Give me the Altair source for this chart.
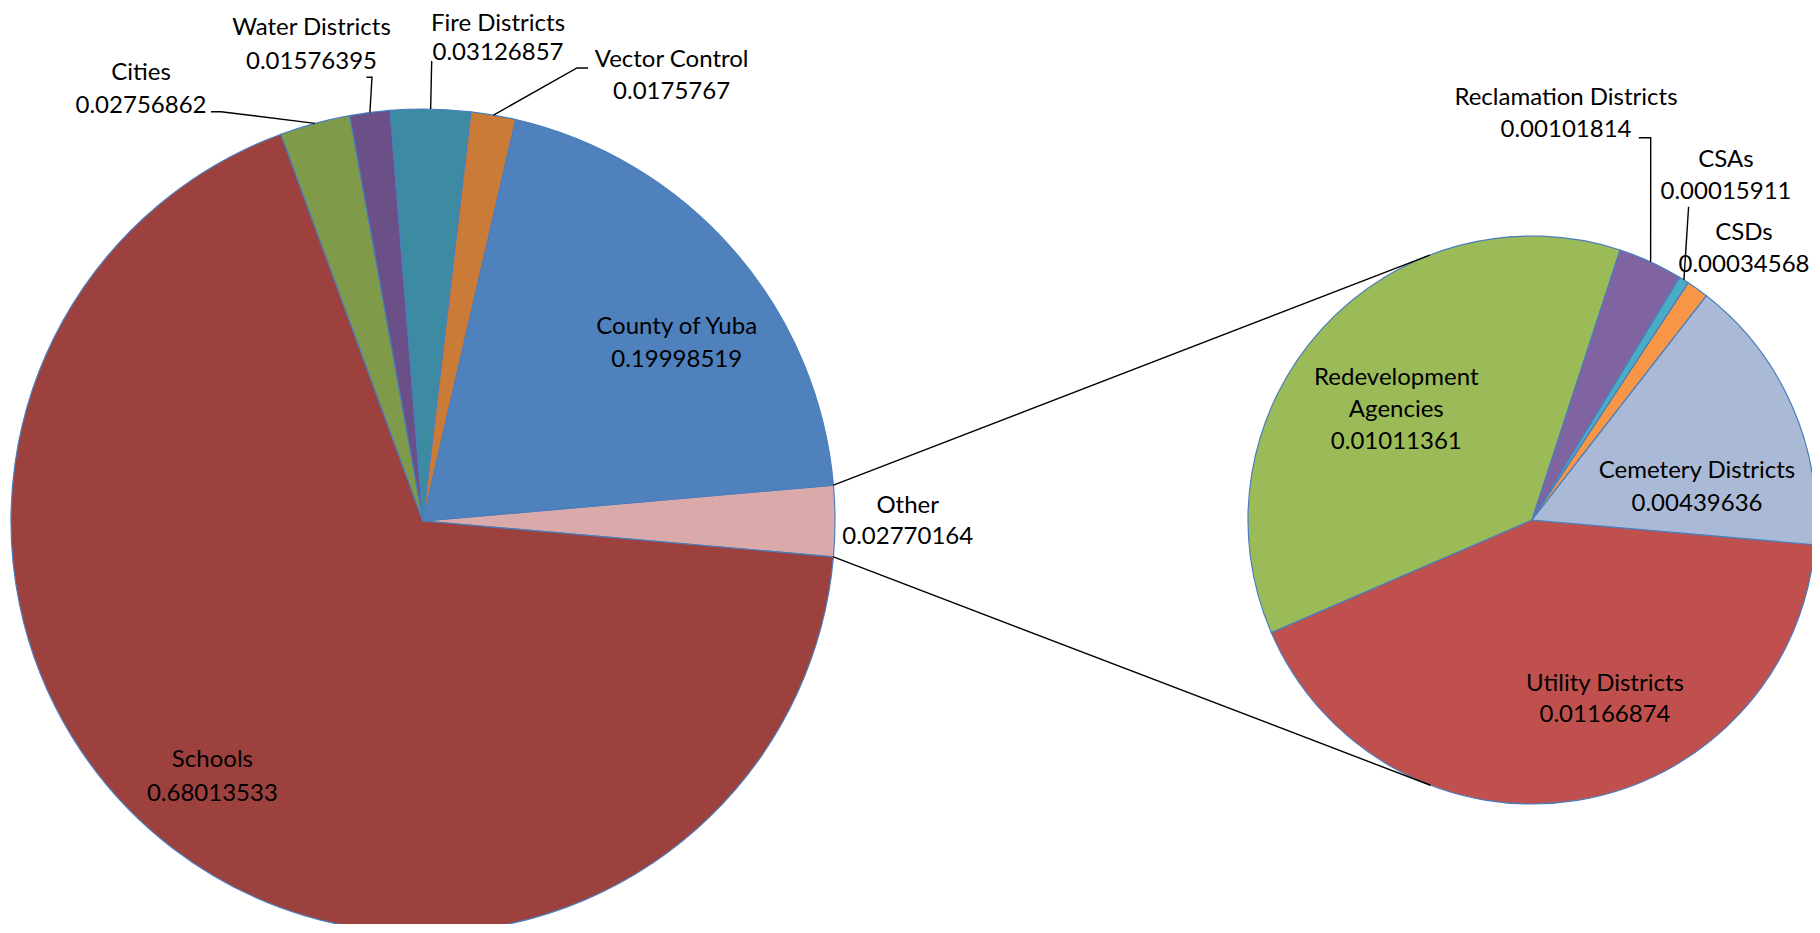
import math
import altair as alt
import pandas as pd

# ---------------- data ----------------
main_labels = ["Other", "Schools", "Cities", "Water Districts", "Fire Districts",
               "Vector Control", "County of Yuba"]
main_values = [0.02770164, 0.68013533, 0.02756862, 0.01576395, 0.03126857,
               0.0175767, 0.19998519]

sub_labels = ["Utility Districts", "Redevelopment Agencies", "Reclamation Districts",
              "CSAs", "CSDs", "Cemetery Districts"]
sub_values = [0.01166874, 0.01011361, 0.00101814, 0.00015911, 0.00034568, 0.00439636]

# ---------------- styles ----------------
main_colors = ["#D9AAA9", "#9D413F", "#7F9A48", "#6A5087", "#3D8BA2", "#CB7B38", "#4F81BD"]
sub_colors = ["#C0504D", "#9BBB59", "#8064A2", "#4BACC6", "#F79646", "#AAB9D6"]

# ---------------- layout (page pixels) ----------------
OFF = 8
W, H = 1804, 916
C1, R1 = (423.0, 521.0), 412.0
C2, R2 = (1532.0, 520.0), 284.0
FONT = "Lato"
FS = 24

main_total = sum(main_values)
sub_total = sum(sub_values)
main_start = 90.0 - main_values[0] / main_total * 180.0   # "Other" centred at 3 o'clock
sub_start = 95.0

def fmt(v):
    return f"{v:.8f}".rstrip("0")

def mids(values, start):
    tot = sum(values)
    out, acc = [], 0.0
    for v in values:
        out.append(start + (acc + v / 2) / tot * 360.0)
        acc += v
    return out

def edge(c, r, deg):
    a = math.radians(deg)
    return (c[0] + r * math.sin(a), c[1] - r * math.cos(a))

def arc_layer(labels, values, colors, c, r, start):
    df = pd.DataFrame({"label": labels, "value": values, "color": colors,
                       "ord": list(range(len(labels)))})
    a0 = math.radians(start)
    return alt.Chart(df).mark_arc(outerRadius=r, stroke="#4A7EBB", strokeWidth=1.2).encode(
        theta=alt.Theta("value:Q", stack=True,
                        scale=alt.Scale(domain=[0, sum(values)], range=[a0, a0 + 2 * math.pi],
                                        nice=False, zero=True)),
        order=alt.Order("ord:Q"),
        color=alt.Color("color:N", scale=None),
        x=alt.value(c[0] - OFF),
        y=alt.value(c[1] - OFF),
    )

main_arc = arc_layer(main_labels, main_values, main_colors, C1, R1, main_start)
sub_arc = arc_layer(sub_labels, sub_values, sub_colors, C2, R2, sub_start)

# ---------------- labels ----------------
label_pos = {
    "Other": (907.7, [506.0, 537.4]),
    "Schools": (212.4, [760.3, 793.5]),
    "Cities": (141.0, [72.7, 106.0]),
    "Water Districts": (311.5, [28.0, 61.5]),
    "Fire Districts": (498.0, [23.5, 53.0]),
    "Vector Control": (671.6, [60.0, 91.7]),
    "County of Yuba": (676.7, [327.3, 359.8]),
    "Utility Districts": (1605.0, [683.6, 715.0]),
    "Redevelopment Agencies": (1396.3, [378.4, 409.7, 442.2]),
    "Reclamation Districts": (1566.0, [98.0, 130.0]),
    "CSAs": (1726.0, [160.0, 191.7]),
    "CSDs": (1744.0, [233.3, 265.0]),
    "Cemetery Districts": (1697.0, [471.2, 503.7]),
}
rows = []
for lab, val in list(zip(main_labels, main_values)) + list(zip(sub_labels, sub_values)):
    x, ys = label_pos[lab]
    lines = ["Redevelopment", "Agencies"] if lab == "Redevelopment Agencies" else [lab]
    lines = lines + [fmt(val)]
    for y, t in zip(ys, lines):
        rows.append({"x": x - OFF, "y": y - OFF, "t": t})
text = alt.Chart(pd.DataFrame(rows)).mark_text(
    font=FONT, fontSize=FS, color="#000000", baseline="middle", align="center"
).encode(x=alt.X("x:Q", scale=None), y=alt.Y("y:Q", scale=None), text="t:N")

# ---------------- leader lines & connectors ----------------
main_mid = dict(zip(main_labels, mids(main_values, main_start)))
sub_mid = dict(zip(sub_labels, mids(sub_values, sub_start)))
leaders = {
    "Cities": ([(211.0, 111.7), (221.0, 111.7)], C1, R1, main_mid["Cities"]),
    "Water Districts": ([(366.5, 77.3), (372.0, 77.3)], C1, R1, main_mid["Water Districts"]),
    "Fire Districts": ([(431.7, 61.0)], C1, R1, main_mid["Fire Districts"]),
    "Vector Control": ([(588.0, 68.0), (577.0, 68.0)], C1, R1, main_mid["Vector Control"]),
    "Reclamation Districts": ([(1638.8, 137.7), (1650.7, 137.7)], C2, R2, sub_mid["Reclamation Districts"]),
    "CSAs": ([(1688.6, 206.7)], C2, R2, sub_mid["CSAs"]),
}
lrows = []
for lid, (pts, c, r, deg) in leaders.items():
    allp = pts + [edge(c, r, deg)]
    for i, (x, y) in enumerate(allp):
        lrows.append({"id": lid, "seq": i, "x": x - OFF, "y": y - OFF})

# connectors: from the "Other" slice edges, tangent to the second pie
o0 = main_start
o1 = main_start + main_values[0] / main_total * 360.0
for lid, deg, sign in [("conn_top", o0, -1), ("conn_bot", o1, 1)]:
    p = edge(C1, R1, deg)
    dx, dy = C2[0] - p[0], C2[1] - p[1]
    d = math.hypot(dx, dy)
    phi = math.atan2(dy, dx)
    alpha = math.asin(R2 / d)
    L = math.sqrt(d * d - R2 * R2)
    ang = phi + sign * alpha
    t = (p[0] + L * math.cos(ang), p[1] + L * math.sin(ang))
    for i, (x, y) in enumerate([p, t]):
        lrows.append({"id": lid, "seq": i, "x": x - OFF, "y": y - OFF})

lines = alt.Chart(pd.DataFrame(lrows)).mark_line(color="#000000", strokeWidth=1.4).encode(
    x=alt.X("x:Q", scale=None), y=alt.Y("y:Q", scale=None),
    detail="id:N", order="seq:Q")

chart = alt.layer(main_arc, sub_arc, lines, text).resolve_scale(
    theta="independent"
).properties(
    width=W, height=H, padding=0, autosize=alt.AutoSizeParams(type="none")
).configure_view(stroke=None)

chart.save("out.html", embed_options={"renderer": "svg", "actions": False})
